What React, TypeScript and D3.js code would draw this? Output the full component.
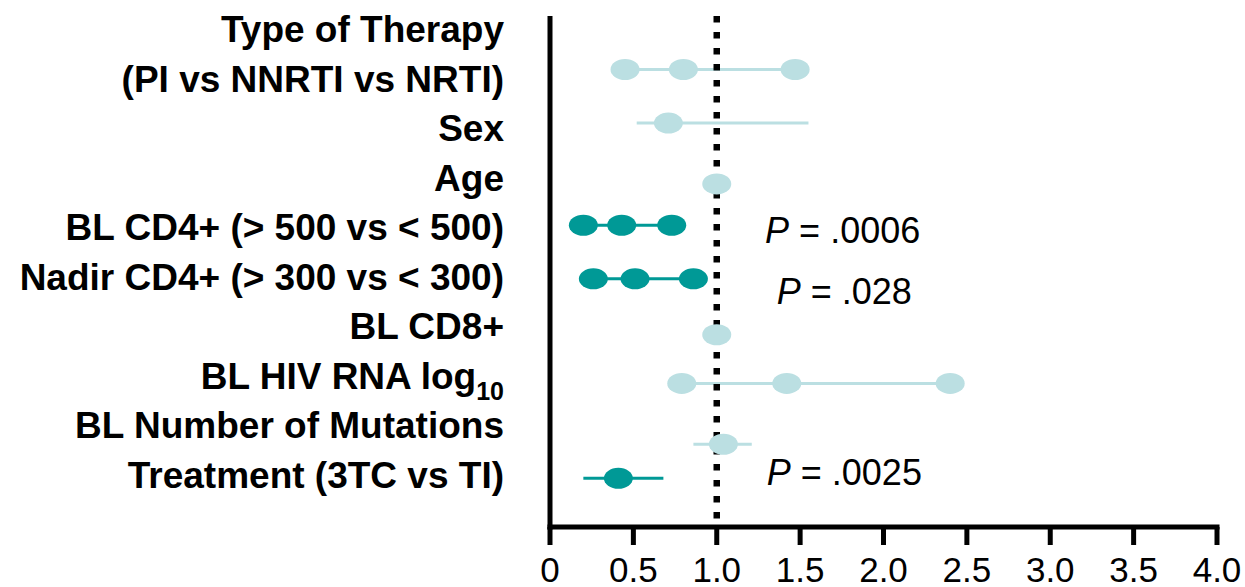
import React from "react";
import * as d3 from "d3";

// Text lines of the left-hand labels (top to bottom)
const labelLines: { text: string; sub?: string }[] = [
  { text: "Type of Therapy" },
  { text: "(PI vs NNRTI vs NRTI)" },
  { text: "Sex" },
  { text: "Age" },
  { text: "BL CD4+ (> 500 vs < 500)" },
  { text: "Nadir CD4+ (> 300 vs < 300)" },
  { text: "BL CD8+" },
  { text: "BL HIV RNA log", sub: "10" },
  { text: "BL Number of Mutations" },
  { text: "Treatment (3TC vs TI)" },
];

// Factors, their Y value on the plot and the hazard ratio estimates
const factors = [
  "Type of Therapy",
  "Sex",
  "Age",
  "BL CD4+",
  "Nadir CD4+",
  "BL CD8+",
  "BL HIV RNA log10",
  "BL Number of Mutations",
  "Treatment",
];
const rowY = [9.4, 8.3, 7.05, 6.2, 5.1, 3.95, 2.95, 1.7, 1.0];
const estimates = [
  [0.45, 0.8, 1.47],
  [0.71],
  [1.0],
  [0.2, 0.43, 0.73],
  [0.26, 0.51, 0.86],
  [1.0],
  [0.79, 1.42, 2.4],
  [1.04],
  [0.41],
];
const lowerCI = [0.45, 0.52, 1.0, 0.2, 0.26, 1.0, 0.79, 0.86, 0.2];
const upperCI = [1.47, 1.55, 1.0, 0.73, 0.86, 1.0, 2.4, 1.21, 0.68];
const significant = [false, false, false, true, true, false, false, false, true];
const pValues: (string | null)[] = [null, null, null, ".0006", ".028", null, null, null, ".0025"];

// X axis ticks
const tickValues = [0, 0.5, 1, 1.5, 2, 2.5, 3, 3.5, 4];
const tickLabels = ["0", "0.5", "1.0", "1.5", "2.0", "2.5", "3.0", "3.5", "4.0"];
const referenceValue = 1;

// Layout
const W = 1245;
const H = 587;
const plotLeft = 550;
const plotRight = 1217;
const plotTop = 16;
const plotBottom = 527;
const labelRight = 504;
const FONT = "'Liberation Sans', Arial, Helvetica, sans-serif";
const LIGHT = "#bbdfe2";
const DARK = "#009996";
// anchor of each P value annotation, in data units [x, y]
const pAnchor: Record<number, [number, number]> = {
  3: [1.29, 5.84],
  4: [1.36, 4.58],
  8: [1.3, 0.86],
};

export default function App() {
  const x = d3.scaleLinear().domain([0, 4]).range([plotLeft, plotRight]);
  const y = d3.scaleLinear().domain([0, 10.5]).range([plotBottom, plotTop]);
  const labelY = d3
    .scalePoint<number>()
    .domain(d3.range(labelLines.length))
    .range([42, 488]);

  return (
    <svg
      width={W}
      height={H}
      viewBox={`0 0 ${W} ${H}`}
      style={{ position: "absolute", left: 0, top: 0, background: "#fff" }}
      fontFamily={FONT}
    >
      <rect x={0} y={0} width={W} height={H} fill="#fff" />

      {/* category labels */}
      <g fontWeight="bold" fontSize={37} textAnchor="end" fill="#000">
        {labelLines.map((l, i) => (
          <text key={i} x={labelRight} y={labelY(i)}>
            {l.text}
            {l.sub && (
              <tspan fontSize={25} dy={11}>
                {l.sub}
              </tspan>
            )}
          </text>
        ))}
      </g>

      {/* confidence interval lines */}
      <g>
        {factors.map((f, i) => (
          <line
            key={f}
            x1={x(lowerCI[i])}
            x2={x(upperCI[i])}
            y1={y(rowY[i])}
            y2={y(rowY[i])}
            stroke={significant[i] ? DARK : LIGHT}
            strokeWidth={3}
          />
        ))}
      </g>

      {/* reference line at HR = 1 */}
      <line
        x1={x(referenceValue)}
        x2={x(referenceValue)}
        y1={plotTop}
        y2={plotBottom}
        stroke="#000"
        strokeWidth={6.5}
        strokeDasharray="6.5 9.5"
      />

      {/* estimates */}
      <g>
        {factors.map((f, i) =>
          estimates[i].map((v, j) => (
            <ellipse
              key={`${f}-${j}`}
              cx={x(v)}
              cy={y(rowY[i])}
              rx={14.5}
              ry={10.5}
              fill={significant[i] ? DARK : LIGHT}
            />
          ))
        )}
      </g>

      {/* axes */}
      <g stroke="#000" strokeWidth={5} fill="none">
        <line x1={plotLeft} x2={plotLeft} y1={plotTop} y2={plotBottom + 2.5} />
        <line x1={plotLeft - 2.5} x2={plotRight + 2.5} y1={plotBottom} y2={plotBottom} />
        {tickValues.map((t) => (
          <line key={t} x1={x(t)} x2={x(t)} y1={plotBottom} y2={plotBottom + 18} />
        ))}
      </g>
      <g fontSize={35} textAnchor="middle" fill="#000">
        {tickValues.map((t, i) => (
          <text key={t} x={x(t)} y={582}>
            {tickLabels[i]}
          </text>
        ))}
      </g>

      {/* P values */}
      <g fontSize={36} fill="#000">
        {pValues.map((p, i) =>
          p ? (
            <text key={i} x={x(pAnchor[i][0])} y={y(pAnchor[i][1])}>
              <tspan fontStyle="italic">P</tspan>
              <tspan>{` = ${p}`}</tspan>
            </text>
          ) : null
        )}
      </g>
    </svg>
  );
}
